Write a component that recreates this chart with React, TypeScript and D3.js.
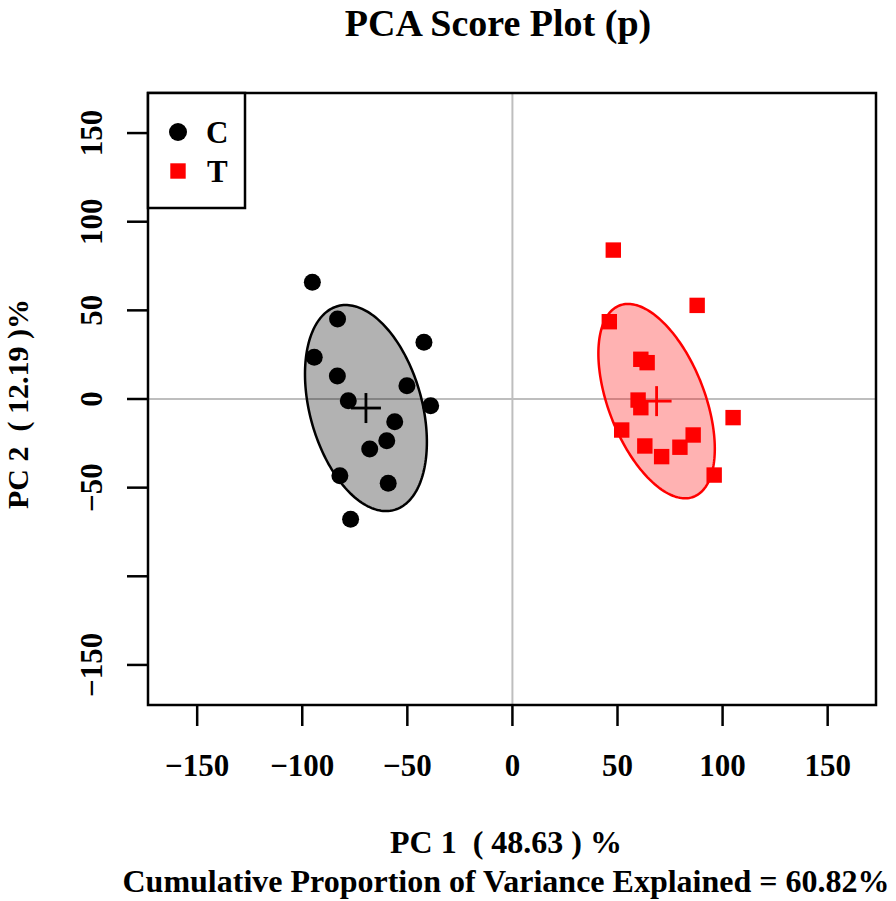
import React from "react";
import * as d3 from "d3";

// ---- data ----
const groups = ["C", "T"];
const groupColors = ["#000000", "#FF0000"];
const groupFills = ["rgba(0,0,0,0.3)", "rgba(255,0,0,0.3)"];

const pc1C = [-95.2, -83.2, -94.3, -83.3, -42.1, -50.2, -78.1, -38.9, -56.0, -59.8, -67.9, -82.1, -59.1, -77.0];
const pc2C = [65.8, 45.1, 23.5, 13.0, 32.0, 7.5, -1.0, -3.8, -12.8, -23.5, -28.2, -43.3, -47.5, -67.8];
const pc1T = [48.0, 87.9, 46.1, 61.1, 64.1, 59.8, 61.1, 105.0, 52.0, 63.0, 86.0, 79.7, 71.0, 96.0];
const pc2T = [84.0, 52.8, 43.6, 22.4, 20.5, -0.6, -4.9, -10.5, -17.5, -26.5, -20.3, -27.2, -32.5, -42.9];

// confidence ellipses (center, half-extent x, half-extent y, correlation)
const ellipseCx = [-69.7, 68.6];
const ellipseCy = [-5.1, -1.2];
const ellipseRx = [29.0, 27.7];
const ellipseRy = [58.1, 54.8];
const ellipseRho = [-0.33, -0.49];

const xTicks = [-150, -100, -50, 0, 50, 100, 150];
const xTickLabels = ["\u2212150", "\u2212100", "\u221250", "0", "50", "100", "150"];
const yTicks = [-150, -100, -50, 0, 50, 100, 150];
const yTickLabels = ["\u2212150", "", "\u221250", "0", "50", "100", "150"];

const title = "PCA Score Plot (p)";
const xLabel = "PC 1  ( 48.63 ) %";
const xLabel2 = "Cumulative Proportion of Variance Explained = 60.82%";
const yLabel = "PC 2  ( 12.19 )%";

export default function App() {
  const W = 896, H = 901;
  const L = 148, R = 876, T = 93, B = 705;
  const x = d3.scaleLinear().domain([-173.4, 173]).range([L, R]);
  const y = d3.scaleLinear().domain([-172.6, 172.6]).range([B, T]);
  const font = "'Liberation Serif', 'Times New Roman', serif";

  const pts = [
    pc1C.map((v, i) => [v, pc2C[i]]),
    pc1T.map((v, i) => [v, pc2T[i]]),
  ];

  const ellipsePath = (g: number) => {
    const n = 200;
    const arr: [number, number][] = d3.range(n).map((k) => {
      const t = (2 * Math.PI * k) / n;
      const ex = ellipseCx[g] + ellipseRx[g] * Math.cos(t);
      const ey = ellipseCy[g] + ellipseRy[g] * (ellipseRho[g] * Math.cos(t) + Math.sqrt(1 - ellipseRho[g] ** 2) * Math.sin(t));
      return [x(ex), y(ey)];
    });
    return d3.line().curve(d3.curveLinearClosed)(arr) || "";
  };

  const textStyle: React.CSSProperties = { fontFamily: font, fontWeight: "bold", whiteSpace: "pre" };

  return (
    <svg width={W} height={H} style={{ position: "absolute", left: 0, top: 0, background: "#fff" }}>
      <rect x={0} y={0} width={W} height={H} fill="#fff" />
      {/* reference lines */}
      <line x1={x(0)} x2={x(0)} y1={T} y2={B} stroke="#bebebe" strokeWidth={2} />
      <line x1={L} x2={R} y1={y(0)} y2={y(0)} stroke="#bebebe" strokeWidth={2} />
      {/* ellipses */}
      {groups.map((g, gi) => (
        <path key={g} d={ellipsePath(gi)} fill={groupFills[gi]} stroke={groupColors[gi]} strokeWidth={2.5} />
      ))}
      {/* points */}
      {pts[0].map((p, i) => (
        <circle key={"c" + i} cx={x(p[0])} cy={y(p[1])} r={8.5} fill={groupColors[0]} />
      ))}
      {pts[1].map((p, i) => (
        <rect key={"t" + i} x={x(p[0]) - 7.7} y={y(p[1]) - 7.7} width={15.4} height={15.4} fill={groupColors[1]} />
      ))}
      {/* centroid crosses */}
      {groups.map((g, gi) => (
        <g key={"x" + g} stroke={groupColors[gi]} strokeWidth={2.8}>
          <line x1={x(ellipseCx[gi]) - 15} x2={x(ellipseCx[gi]) + 15} y1={y(ellipseCy[gi])} y2={y(ellipseCy[gi])} />
          <line x1={x(ellipseCx[gi])} x2={x(ellipseCx[gi])} y1={y(ellipseCy[gi]) - 15} y2={y(ellipseCy[gi]) + 15} />
        </g>
      ))}
      {/* box */}
      <rect x={L} y={T} width={R - L} height={B - T} fill="none" stroke="#000" strokeWidth={2.5} />
      {/* x axis */}
      {xTicks.map((t, i) => (
        <g key={"xt" + t}>
          <line x1={x(t)} x2={x(t)} y1={B} y2={B + 21} stroke="#000" strokeWidth={2.5} />
          <text x={x(t)} y={776} textAnchor="middle" fontSize={31} style={textStyle}>{xTickLabels[i]}</text>
        </g>
      ))}
      {/* y axis */}
      {yTicks.map((t, i) => (
        <g key={"yt" + t}>
          <line x1={L - 21} x2={L} y1={y(t)} y2={y(t)} stroke="#000" strokeWidth={2.5} />
          {yTickLabels[i] !== "" && (
            <text transform={`translate(102,${y(t)}) rotate(-90)`} textAnchor="middle" fontSize={31} style={textStyle}>{yTickLabels[i]}</text>
          )}
        </g>
      ))}
      {/* legend */}
      <rect x={L} y={T} width={97} height={115} fill="#fff" stroke="#000" strokeWidth={2.5} />
      <circle cx={178} cy={132} r={9} fill={groupColors[0]} />
      <text x={206} y={143} fontSize={31} style={textStyle}>{groups[0]}</text>
      <rect x={170.3} y={163.3} width={15.4} height={15.4} fill={groupColors[1]} />
      <text x={207} y={182} fontSize={31} fill={groupColors[0]} style={textStyle}>{groups[1]}</text>
      {/* titles */}
      <text x={498} y={36} textAnchor="middle" fontSize={38} style={textStyle}>{title}</text>
      <text x={506} y={853} textAnchor="middle" fontSize={32} style={textStyle}>{xLabel}</text>
      <text x={506} y={892} textAnchor="middle" fontSize={32} style={textStyle}>{xLabel2}</text>
      <text transform={`translate(28,404) rotate(-90)`} textAnchor="middle" fontSize={30} style={textStyle}>{yLabel}</text>
    </svg>
  );
}
